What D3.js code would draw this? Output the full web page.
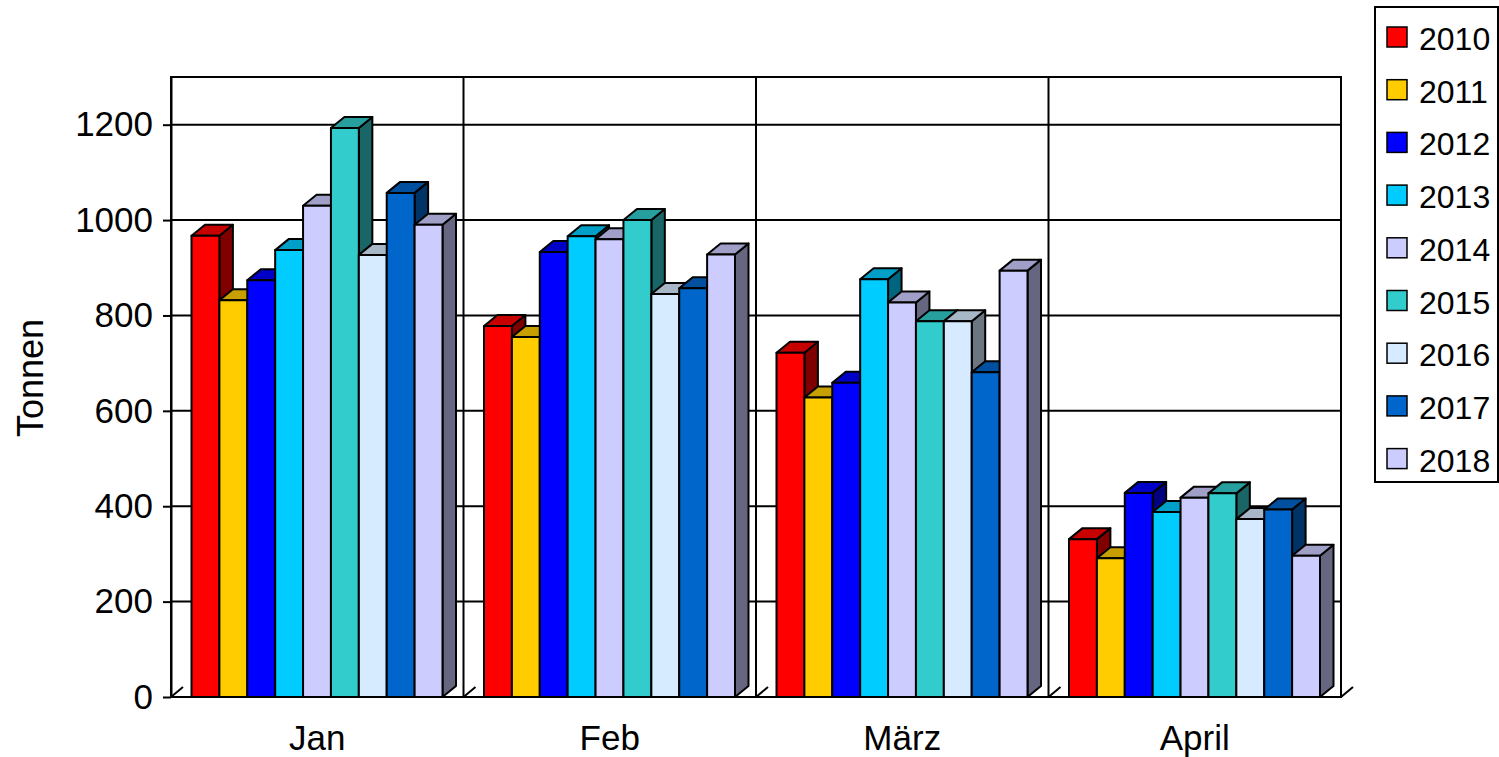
<!DOCTYPE html>
<html>
<head>
<meta charset="utf-8">
<script src="https://cdn.jsdelivr.net/npm/d3@7"></script>
<style>
  body { margin: 0; background: #fff; }
  svg { display: block; font-family: "Liberation Sans", Arial, sans-serif; }
</style>
</head>
<body>
<svg id="chart" width="1499" height="757"></svg>
<script>
// data
var months = ["Jan", "Feb", "März", "April"];
var years = ["2010", "2011", "2012", "2013", "2014", "2015", "2016", "2017", "2018"];
var colors = ["#FF0000", "#FFCC00", "#0000FF", "#00CCFF", "#CCCCFF", "#33CCCC", "#D6EBFF", "#0066CC", "#CCCCFF"];
var yTicks = [0, 200, 400, 600, 800, 1000, 1200];

var v2010 = [967, 778, 722, 331];
var v2011 = [832, 755, 628, 291];
var v2012 = [874, 933, 659, 428];
var v2013 = [937, 966, 876, 388];
var v2014 = [1030, 960, 827, 418];
var v2015 = [1193, 1000, 788, 427];
var v2016 = [927, 845, 788, 373];
var v2017 = [1057, 857, 681, 393];
var v2018 = [990, 928, 894, 296];
var series = [v2010, v2011, v2012, v2013, v2014, v2015, v2016, v2017, v2018];

var svg = d3.select("#chart");

var plotL = 171, plotR = 1341, plotT = 77, plotB = 697;
var dx = 13.5, dy = -11; // 3d depth

var x0 = d3.scaleBand().domain(months).range([plotL, plotR]);
var x1 = d3.scaleBand().domain(years).range([20.5, x0.bandwidth() - 21]);
var y = d3.scaleLinear().domain([0, 1300]).range([plotB, plotT]);

function shade(c, k) {
    var r = d3.rgb(c);
    return d3.rgb(r.r * k, r.g * k, r.b * k).formatHex();
}

// gridlines
svg.append("g")
    .selectAll("line")
    .data(yTicks)
    .enter()
    .append("line")
    .attr("x1", plotL).attr("x2", plotR)
    .attr("y1", function(d){ return y(d); })
    .attr("y2", function(d){ return y(d); })
    .attr("stroke", "#000")
    .attr("stroke-width", 2);

// frame + category separators
svg.append("rect")
    .attr("x", plotL).attr("y", plotT)
    .attr("width", plotR - plotL).attr("height", plotB - plotT)
    .attr("fill", "none").attr("stroke", "#000").attr("stroke-width", 2);

var seps = months.map(function(m){ return x0(m); }).concat([plotR]);
svg.append("g")
    .selectAll("line")
    .data(seps.slice(1, -1))
    .enter()
    .append("line")
    .attr("x1", function(d){ return d; }).attr("x2", function(d){ return d; })
    .attr("y1", plotT).attr("y2", plotB)
    .attr("stroke", "#000").attr("stroke-width", 2);

// little floor ticks going back
svg.append("g")
    .selectAll("line")
    .data(seps)
    .enter()
    .append("line")
    .attr("x1", function(d){ return d; }).attr("x2", function(d){ return d + 12; })
    .attr("y1", plotB).attr("y2", plotB - 10)
    .attr("stroke", "#000").attr("stroke-width", 2);

// y axis
var yAxis = svg.append("g")
    .attr("transform", "translate(" + plotL + ",0)")
    .call(d3.axisLeft(y).tickValues(yTicks).tickFormat(d3.format("d"))
        .tickSize(8).tickSizeOuter(0).tickPadding(10));
yAxis.selectAll("path.domain").attr("stroke-width", 2);
yAxis.selectAll("line").attr("stroke-width", 2);
yAxis.selectAll("text")
    .style("font-size", "35px")
    .attr("fill", "#000")
    .attr("font-family", "Liberation Sans, Arial, sans-serif");

// bars
var bars = [];
months.forEach(function(m, mi){
    years.forEach(function(yr, si){
        bars.push({ month: m, year: yr, value: series[si][mi], color: colors[si] });
    });
});

var g = svg.append("g")
    .selectAll("g")
    .data(bars)
    .enter()
    .append("g")
    .attr("stroke", "#000")
    .attr("stroke-width", 2)
    .attr("stroke-linejoin", "round");

g.append("polygon")
    .attr("points", function(d){
        var xl = x0(d.month) + x1(d.year), xr = xl + x1.bandwidth(), t = y(d.value);
        return [[xr, plotB], [xr + dx, plotB + dy], [xr + dx, t + dy], [xr, t]].join(" ");
    })
    .attr("fill", function(d){ return shade(d.color, 0.5); });

g.append("polygon")
    .attr("points", function(d){
        var xl = x0(d.month) + x1(d.year), xr = xl + x1.bandwidth(), t = y(d.value);
        return [[xl, t], [xl + dx, t + dy], [xr + dx, t + dy], [xr, t]].join(" ");
    })
    .attr("fill", function(d){ return shade(d.color, 0.78); });

g.append("rect")
    .attr("x", function(d){ return x0(d.month) + x1(d.year); })
    .attr("y", function(d){ return y(d.value); })
    .attr("width", x1.bandwidth())
    .attr("height", function(d){ return plotB - y(d.value); })
    .attr("fill", function(d){ return d.color; });

// category labels
svg.append("g")
    .selectAll("text")
    .data(months)
    .enter()
    .append("text")
    .attr("x", function(d){ return x0(d) + x0.bandwidth() / 2; })
    .attr("y", 750)
    .attr("text-anchor", "middle")
    .style("font-size", "35px")
    .text(function(d){ return d; });

// axis title
svg.append("text")
    .attr("transform", "translate(43,378) rotate(-90)")
    .attr("text-anchor", "middle")
    .style("font-size", "36px")
    .text("Tonnen");

// legend
var legend = svg.append("g");
legend.append("rect")
    .attr("x", 1375).attr("y", 7)
    .attr("width", 123).attr("height", 475)
    .attr("fill", "#fff").attr("stroke", "#000").attr("stroke-width", 2);

var items = legend.selectAll("g.item")
    .data(years)
    .enter()
    .append("g")
    .attr("class", "item")
    .attr("transform", function(d, i){ return "translate(1387," + (27 + i * 52.7) + ")"; });

items.append("rect")
    .attr("width", 20).attr("height", 20)
    .attr("fill", function(d, i){ return colors[i]; })
    .attr("stroke", "#000").attr("stroke-width", 1.5);

items.append("text")
    .attr("x", 32).attr("y", 23)
    .style("font-size", "32px")
    .text(function(d){ return d; });
</script>
</body>
</html>
